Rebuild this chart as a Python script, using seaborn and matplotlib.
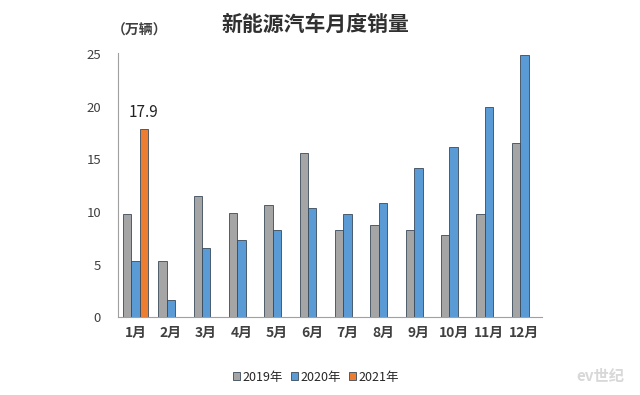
import pandas as pd
import seaborn as sns
import matplotlib.pyplot as plt

months = ['1月', '2月', '3月', '4月', '5月', '6月', '7月', '8月', '9月', '10月', '11月', '12月']
sales2019 = [9.8, 5.3, 11.5, 9.9, 10.7, 15.6, 8.3, 8.8, 8.3, 7.8, 9.8, 16.6]
sales2020 = [5.3, 1.6, 6.6, 7.3, 8.3, 10.4, 9.8, 10.9, 14.2, 16.2, 20.0, 24.9]
sales2021 = [17.9] + [None] * 11
years = ['2019年', '2020年', '2021年']
colors = ['#A5A5A5', '#5B9BD5', '#ED7D31']

sns.set_theme(style="white")
plt.rcParams['font.family'] = ['Noto Sans CJK SC', 'DejaVu Sans']

rows = []
for year, vals in zip(years, [sales2019, sales2020, sales2021]):
    for m, v in zip(months, vals):
        rows.append({'month': m, 'year': year, 'sales': v})
df = pd.DataFrame(rows)

fig = plt.figure(figsize=(6.4, 3.95), dpi=100)
ax = fig.add_axes([0.184, 0.197, 0.663, 0.668])

sns.barplot(data=df, x='month', y='sales', hue='year', hue_order=years,
            palette=colors, saturation=1, width=0.71, edgecolor='#3a4a5a',
            linewidth=0.6, ax=ax, legend=True)

ax.set_ylim(0, 25.1)
ax.set_yticks([0, 5, 10, 15, 20, 25])
ax.set_xlabel('')
ax.set_ylabel('')
ax.tick_params(axis='both', length=0, colors='#404040')
ax.tick_params(axis='y', labelsize=9.5, pad=12)
ax.tick_params(axis='x', labelsize=10, pad=6)
for lbl in ax.get_xticklabels():
    lbl.set_fontweight('bold')

for side in ['top', 'right']:
    ax.spines[side].set_visible(False)
ax.spines['left'].set_color('#a0a0a0')
ax.spines['bottom'].set_color('#a0a0a0')
ax.spines['left'].set_linewidth(0.8)
ax.spines['bottom'].set_linewidth(0.8)

# value label for 2021 January
bar2021 = ax.containers[2][0]
ax.text(bar2021.get_x() + bar2021.get_width() / 2, bar2021.get_height() + 0.8,
        '17.9', ha='center', va='bottom', fontsize=11, color='#222222')

handles, labels = ax.get_legend_handles_labels()
ax.legend(handles, labels, loc='center', bbox_to_anchor=(316 / 640, 1 - 377 / 395),
          bbox_transform=fig.transFigure, ncol=3, frameon=False, fontsize=9,
          handlelength=0.6, handleheight=0.6, handletextpad=0.2, columnspacing=0.6)

fig.text(315 / 640, 1 - 24 / 395, '新能源汽车月度销量', ha='center', va='center',
         fontsize=15, fontweight='bold', color='#303030')
fig.text(140 / 640, 1 - 31 / 395, '（万辆）', ha='center', va='center',
         fontsize=10, fontweight='bold', color='#404040')
fig.text(600 / 640, 1 - 376 / 395, 'ev世纪', ha='center', va='center',
         fontsize=11, style='italic', fontweight='bold', color='#d8d8d8')

fig.savefig('out.png', dpi=100, facecolor='white')
